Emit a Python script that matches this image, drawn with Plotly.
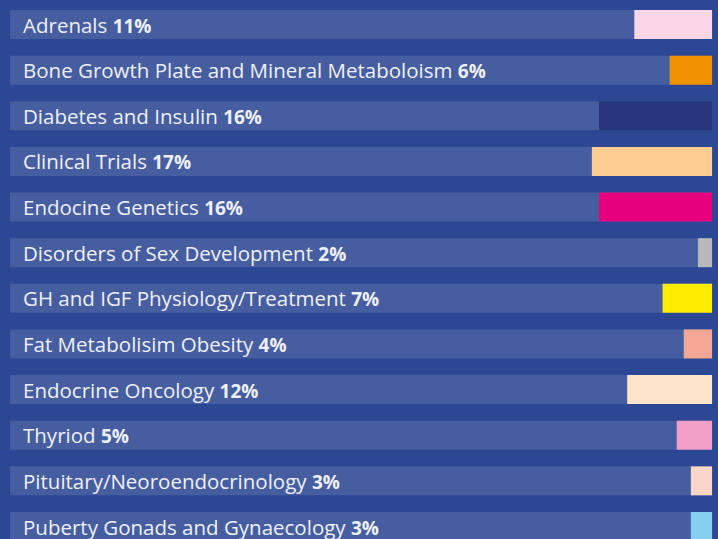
import plotly.graph_objects as go

categories = [
    "Adrenals",
    "Bone Growth Plate and Mineral Metaboloism",
    "Diabetes and Insulin",
    "Clinical Trials",
    "Endocine Genetics",
    "Disorders of Sex Development",
    "GH and IGF Physiology/Treatment",
    "Fat Metabolisim Obesity",
    "Endocrine Oncology",
    "Thyriod",
    "Pituitary/Neoroendocrinology",
    "Puberty Gonads and Gynaecology",
]
percentages = [11, 6, 16, 17, 16, 2, 7, 4, 12, 5, 3, 3]
bar_colors = [
    "#fbd6e6", "#f39200", "#27367e", "#fecd92", "#e6007e", "#b9b9b9",
    "#ffed00", "#f5a795", "#fee5c9", "#f29fc8", "#fad6c9", "#84cff1",
]

BG = "#2c4894"
TRACK = "#465ea0"
TRACK_LEN = 99.3  # track length in percent units

n = len(categories)
idx = list(range(n))

fig = go.Figure()
fig.add_trace(go.Bar(
    orientation="h", y=idx, x=[TRACK_LEN] * n, base=[0] * n,
    marker=dict(color=TRACK, line=dict(width=0)), width=0.635,
    hoverinfo="skip", showlegend=False,
))
fig.add_trace(go.Bar(
    orientation="h", y=idx, x=percentages,
    base=[TRACK_LEN - p for p in percentages],
    marker=dict(color=bar_colors, line=dict(width=0)), width=0.635,
    hoverinfo="skip", showlegend=False,
))

for i, (c, p) in enumerate(zip(categories, percentages)):
    fig.add_annotation(
        x=0, y=i, xref="x", yref="y", xanchor="left", yanchor="middle",
        xshift=11, yshift=0, showarrow=False,
        text=f"{c} <span style='font-size:19px'><b>{p}%</b></span>",
        font=dict(family="Open Sans", size=20.5, color="#eef0f7"),
    )

fig.update_layout(
    width=718, height=539,
    margin=dict(l=0, r=0, t=0, b=0),
    paper_bgcolor=BG, plot_bgcolor=BG,
    barmode="overlay",
    xaxis=dict(range=[-1.414, 100.14], visible=False, fixedrange=True),
    yaxis=dict(range=[11.274, -0.537], visible=False, fixedrange=True),
)

fig.write_html(
    "out.html",
    config={"displayModeBar": False},
    post_script="document.body.style.margin='0';document.body.style.background='%s';document.body.style.overflow='hidden';" % BG,
)
